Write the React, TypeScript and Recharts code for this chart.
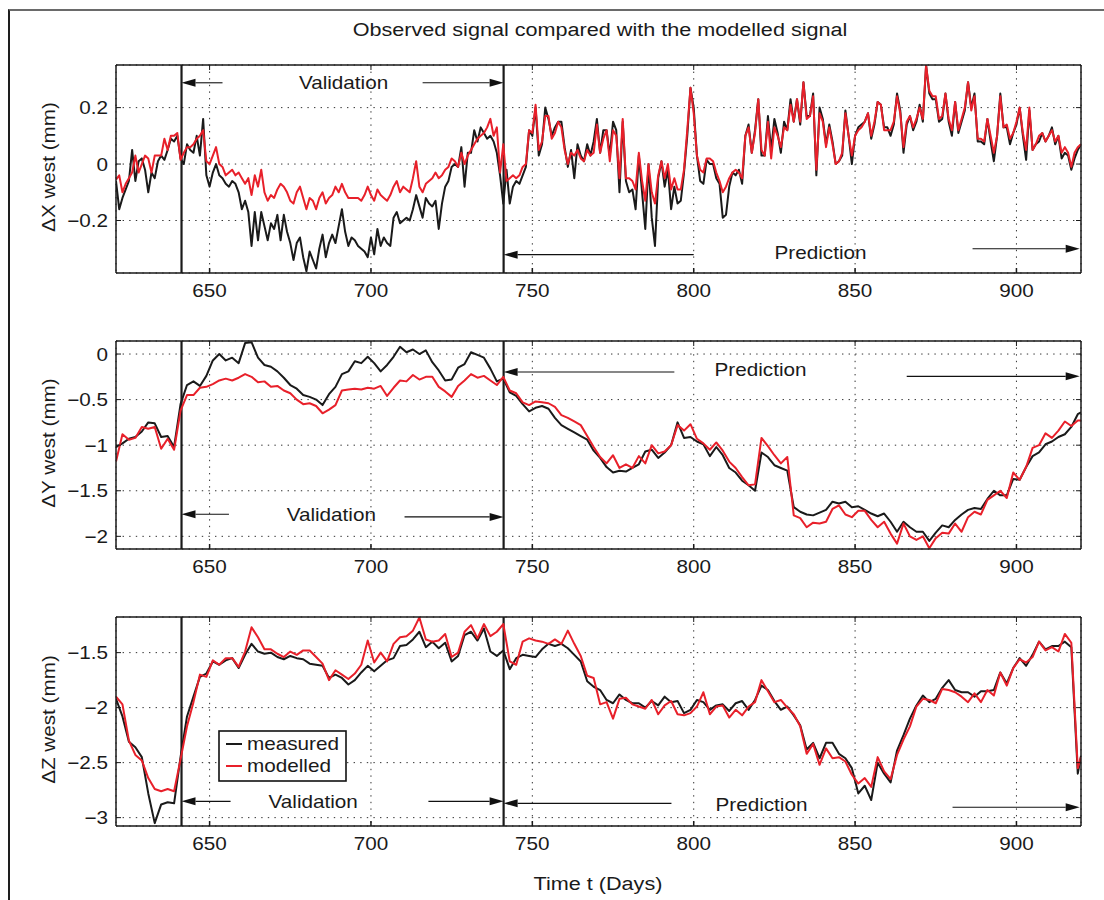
import React from 'react';
import { LineChart, Line, XAxis, YAxis, CartesianGrid, ReferenceLine, ReferenceDot, Legend } from 'recharts';

const FONT = '"Liberation Sans", Arial, Helvetica, sans-serif';
const SX = 1.15;
const SX_TITLE = 1.2;
const FS = 18;

const xDomain = [621, 920];
const xTicks = [650, 700, 750, 800, 850, 900];
const xTickLabels = ['650', '700', '750', '800', '850', '900'];
const splitDays = [641.3, 741.1];

const days1 = [621,622,623,624,625,626,627,628,629,630,631,632,633,634,635,636,637,638,639,640,
641,642,643,644,645,646,647,648,649,650,651,652,653,654,655,656,657,658,659,660,
661,662,663,664,665,666,667,668,669,670,671,672,673,674,675,676,677,678,679,680,
681,682,683,684,685,686,687,688,689,690,691,692,693,694,695,696,697,698,699,700,
701,702,703,704,705,706,707,708,709,710,711,712,713,714,715,716,717,718,719,720,
721,722,723,724,725,726,727,728,729,730,731,732,733,734,735,736,737,738,739,740,
741,742,743,744,745,746,747,748,749,750,751,752,753,754,755,756,757,758,759,760,
761,762,763,764,765,766,767,768,769,770,771,772,773,774,775,776,777,778,779,780,
781,782,783,784,785,786,787,788,789,790,791,792,793,794,795,796,797,798,799,800,
801,802,803,804,805,806,807,808,809,810,811,812,813,814,815,816,817,818,819,820,
821,822,823,824,825,826,827,828,829,830,831,832,833,834,835,836,837,838,839,840,
841,842,843,844,845,846,847,848,849,850,851,852,853,854,855,856,857,858,859,860,
861,862,863,864,865,866,867,868,869,870,871,872,873,874,875,876,877,878,879,880,
881,882,883,884,885,886,887,888,889,890,891,892,893,894,895,896,897,898,899,900,
901,902,903,904,905,906,907,908,909,910,911,912,913,914,915,916,917,918,919,920];

const measuredX = [-0.06,-0.16,-0.12,-0.09,-0.06,0.05,-0.06,0.01,0.02,-0.02,
-0.10,-0.03,-0.05,0.01,0.03,0.015,0.05,0.09,0.08,0.10,
0.02,0.00,0.07,0.05,0.04,0.10,0.03,0.16,-0.04,-0.08,
-0.03,0.00,-0.04,-0.05,-0.07,-0.08,-0.06,-0.07,-0.10,-0.16,
-0.13,-0.17,-0.29,-0.17,-0.27,-0.17,-0.22,-0.27,-0.21,-0.23,
-0.18,-0.27,-0.18,-0.24,-0.28,-0.34,-0.28,-0.26,-0.33,-0.38,
-0.31,-0.34,-0.37,-0.30,-0.25,-0.33,-0.28,-0.25,-0.28,-0.22,
-0.16,-0.24,-0.29,-0.26,-0.27,-0.29,-0.30,-0.31,-0.33,-0.26,
-0.32,-0.23,-0.29,-0.26,-0.28,-0.29,-0.19,-0.17,-0.21,-0.20,
-0.19,-0.20,-0.16,-0.11,-0.15,-0.19,-0.12,-0.14,-0.15,-0.13,
-0.23,-0.14,-0.08,-0.06,-0.01,0.00,-0.01,0.06,-0.08,0.04,
0.04,0.12,0.08,0.13,0.11,0.09,0.10,0.08,0.04,-0.04,
-0.14,-0.02,-0.14,-0.08,-0.06,-0.07,-0.04,-0.01,0.12,0.10,
0.20,0.03,0.07,0.20,0.16,0.10,0.13,0.15,0.15,0.06,
-0.01,0.05,-0.05,0.07,0.03,0.01,0.07,0.03,0.08,0.16,
0.04,0.12,0.12,0.03,0.15,0.12,-0.10,0.15,-0.06,-0.10,
-0.09,-0.16,0.03,-0.10,-0.23,0.00,-0.19,-0.29,-0.05,0.01,
-0.08,-0.02,-0.16,-0.08,-0.14,-0.13,-0.03,0.10,0.27,0.20,
0.03,-0.06,-0.07,0.015,0.00,0.00,-0.05,-0.07,-0.19,-0.18,
-0.08,-0.03,-0.04,-0.02,-0.07,0.10,0.14,0.04,0.12,0.23,
0.03,0.03,0.17,0.05,0.16,0.11,0.04,0.15,0.12,0.23,
0.15,0.23,0.14,0.29,0.17,0.17,0.25,-0.04,0.20,0.16,
0.07,0.14,0.08,0.00,0.01,0.03,0.19,0.10,0.00,0.10,
0.13,0.14,0.15,0.18,0.09,0.14,0.22,0.21,0.13,0.13,
0.10,0.14,0.25,0.19,0.04,0.14,0.17,0.12,0.15,0.21,
0.15,0.35,0.25,0.23,0.23,0.15,0.16,0.25,0.15,0.10,
0.22,0.11,0.15,0.19,0.29,0.20,0.25,0.08,0.08,0.07,
0.16,0.08,0.01,0.10,0.25,0.13,0.13,0.07,0.11,0.14,
0.20,0.10,0.015,0.19,0.05,0.07,0.08,0.11,0.08,0.10,
0.13,0.07,0.10,0.02,0.04,0.03,-0.02,0.02,0.05,0.07];

const modelledX = [-0.055,-0.04,-0.10,-0.07,-0.05,-0.03,0.03,-0.03,0.00,0.03,
0.02,-0.03,0.03,0.03,0.03,0.09,0.05,0.10,0.10,0.11,
0.015,0.04,0.06,0.06,0.07,0.09,0.10,0.12,0.01,0.00,
0.03,0.06,0.00,-0.01,-0.04,-0.03,-0.02,-0.04,-0.03,-0.05,
-0.07,-0.05,-0.11,-0.04,-0.08,-0.02,-0.10,-0.13,-0.11,-0.12,
-0.09,-0.07,-0.08,-0.10,-0.13,-0.14,-0.10,-0.08,-0.12,-0.16,
-0.12,-0.13,-0.16,-0.12,-0.10,-0.14,-0.12,-0.11,-0.08,-0.10,
-0.07,-0.10,-0.12,-0.12,-0.12,-0.12,-0.13,-0.11,-0.08,-0.11,
-0.13,-0.09,-0.11,-0.12,-0.13,-0.11,-0.08,-0.06,-0.10,-0.08,
-0.09,-0.10,-0.05,0.01,-0.08,-0.10,-0.07,-0.06,-0.05,-0.03,
-0.05,-0.04,-0.02,-0.01,0.02,0.01,-0.01,0.04,0.00,0.03,
0.05,0.07,0.09,0.10,0.11,0.13,0.16,0.10,0.13,-0.03,
0.07,-0.06,-0.05,-0.04,-0.05,-0.04,-0.01,0.00,0.12,0.11,
0.21,0.05,0.08,0.17,0.17,0.09,0.11,0.15,0.13,0.05,
0.00,0.04,0.03,0.05,0.02,0.01,0.05,0.03,0.04,0.14,
0.04,0.09,0.12,0.01,0.12,0.10,-0.05,0.16,-0.05,-0.05,
-0.06,-0.09,0.04,-0.06,-0.13,0.00,-0.10,-0.14,-0.04,0.01,
-0.05,0.00,-0.09,-0.05,-0.09,-0.09,-0.02,0.12,0.27,0.18,
0.03,-0.02,-0.03,0.02,0.02,0.01,-0.03,-0.06,-0.10,-0.08,
-0.05,-0.03,-0.02,-0.03,-0.05,0.10,0.13,0.04,0.11,0.23,
0.05,0.03,0.15,0.02,0.13,0.10,0.06,0.13,0.12,0.21,
0.15,0.23,0.15,0.29,0.16,0.17,0.24,-0.02,0.18,0.15,
0.06,0.13,0.07,0.00,0.01,0.04,0.18,0.10,0.03,0.10,
0.12,0.13,0.15,0.18,0.10,0.15,0.22,0.21,0.12,0.12,
0.12,0.15,0.24,0.18,0.06,0.15,0.17,0.13,0.16,0.20,
0.16,0.35,0.26,0.24,0.24,0.16,0.17,0.25,0.16,0.12,
0.22,0.12,0.16,0.20,0.29,0.19,0.24,0.09,0.09,0.08,
0.16,0.10,0.04,0.10,0.24,0.13,0.14,0.09,0.11,0.15,
0.20,0.11,0.05,0.20,0.05,0.07,0.10,0.11,0.08,0.10,
0.12,0.08,0.10,0.04,0.06,0.04,-0.01,0.04,0.06,0.07];

const days23 = [621,623,625,627,629,631,633,635,637,639,
641,643,645,647,649,651,653,655,657,659,
661,663,665,667,669,671,673,675,677,679,
681,683,685,687,689,691,693,695,697,699,
701,703,705,707,709,711,713,715,717,719,
721,723,725,727,729,731,733,735,737,739,
741,743,745,747,749,751,753,755,757,759,
761,763,765,767,769,771,773,775,777,779,
781,783,785,787,789,791,793,795,797,799,
801,803,805,807,809,811,813,815,817,819,
821,823,825,827,829,831,833,835,837,839,
841,843,845,847,849,851,853,855,857,859,
861,863,865,867,869,871,873,875,877,879,
881,883,885,887,889,891,893,895,897,899,
901,903,905,907,909,911,913,915,917,919,920];

const measuredY = [-1.02,-0.98,-0.93,-0.91,-0.85,-0.75,-0.76,-0.91,-0.90,-1.02,
-0.55,-0.34,-0.30,-0.35,-0.24,-0.07,0.00,-0.07,-0.04,-0.10,
0.12,0.13,-0.04,-0.12,-0.14,-0.19,-0.26,-0.34,-0.38,-0.45,
-0.47,-0.50,-0.56,-0.44,-0.36,-0.22,-0.19,-0.08,-0.10,-0.03,
-0.10,-0.19,-0.12,-0.03,0.08,0.02,0.05,0.00,0.04,-0.09,
-0.18,-0.29,-0.28,-0.15,-0.11,0.02,-0.01,-0.04,-0.16,-0.30,
-0.27,-0.42,-0.46,-0.55,-0.63,-0.59,-0.57,-0.60,-0.70,-0.78,
-0.82,-0.86,-0.90,-0.94,-1.06,-1.14,-1.24,-1.30,-1.28,-1.29,
-1.25,-1.21,-1.07,-1.05,-1.14,-1.08,-1.00,-0.75,-0.92,-0.91,
-0.96,-0.99,-1.12,-1.02,-1.11,-1.25,-1.30,-1.39,-1.44,-1.50,
-1.08,-1.13,-1.22,-1.25,-1.28,-1.68,-1.73,-1.76,-1.77,-1.74,
-1.71,-1.62,-1.64,-1.62,-1.68,-1.67,-1.71,-1.75,-1.78,-1.75,
-1.84,-1.95,-1.84,-1.90,-1.95,-1.95,-2.05,-1.96,-1.88,-1.90,
-1.82,-1.76,-1.71,-1.69,-1.70,-1.59,-1.50,-1.55,-1.55,-1.37,
-1.38,-1.24,-1.12,-1.08,-0.99,-0.96,-0.91,-0.88,-0.80,-0.66,-0.64];

const modelledY = [-1.18,-0.88,-0.94,-0.92,-0.80,-0.82,-0.80,-1.04,-0.93,-1.05,
-0.62,-0.45,-0.45,-0.37,-0.36,-0.33,-0.29,-0.27,-0.29,-0.26,
-0.22,-0.25,-0.31,-0.30,-0.36,-0.35,-0.40,-0.43,-0.50,-0.55,
-0.54,-0.57,-0.65,-0.61,-0.56,-0.40,-0.39,-0.38,-0.39,-0.37,
-0.38,-0.35,-0.46,-0.37,-0.29,-0.30,-0.23,-0.28,-0.25,-0.25,
-0.36,-0.41,-0.47,-0.35,-0.29,-0.22,-0.26,-0.24,-0.29,-0.34,
-0.25,-0.40,-0.43,-0.53,-0.56,-0.52,-0.53,-0.54,-0.58,-0.67,
-0.70,-0.74,-0.78,-0.90,-1.02,-1.13,-1.20,-1.11,-1.25,-1.21,
-1.25,-1.12,-1.20,-1.00,-1.09,-1.07,-1.00,-0.78,-0.84,-0.77,
-0.93,-0.98,-1.05,-0.97,-1.06,-1.18,-1.25,-1.35,-1.44,-1.43,
-0.92,-1.01,-1.11,-1.20,-1.13,-1.77,-1.80,-1.90,-1.85,-1.86,
-1.84,-1.70,-1.66,-1.76,-1.79,-1.72,-1.72,-1.82,-1.90,-1.84,
-1.97,-2.08,-1.86,-2.00,-2.04,-2.00,-2.13,-2.02,-1.96,-1.97,
-1.86,-1.95,-1.79,-1.73,-1.76,-1.60,-1.55,-1.50,-1.58,-1.30,
-1.38,-1.24,-1.03,-1.00,-0.87,-0.92,-0.84,-0.74,-0.79,-0.73,-0.73];

const measuredZ = [-1.92,-2.08,-2.31,-2.36,-2.45,-2.78,-3.05,-2.88,-2.86,-2.87,
-2.45,-2.08,-1.90,-1.72,-1.69,-1.58,-1.61,-1.57,-1.55,-1.64,
-1.52,-1.42,-1.49,-1.51,-1.50,-1.54,-1.56,-1.53,-1.55,-1.56,
-1.60,-1.61,-1.62,-1.73,-1.70,-1.73,-1.79,-1.75,-1.68,-1.62,
-1.67,-1.62,-1.57,-1.55,-1.44,-1.43,-1.38,-1.31,-1.45,-1.40,
-1.46,-1.41,-1.58,-1.53,-1.34,-1.31,-1.39,-1.28,-1.49,-1.53,
-1.48,-1.65,-1.55,-1.52,-1.53,-1.54,-1.47,-1.42,-1.44,-1.42,
-1.46,-1.52,-1.58,-1.76,-1.81,-1.84,-1.93,-1.96,-1.88,-1.93,
-1.96,-1.96,-2.00,-1.94,-1.98,-1.90,-1.95,-1.94,-2.05,-2.02,
-1.93,-1.95,-2.02,-1.98,-1.97,-2.03,-1.96,-1.94,-2.02,-1.93,
-1.80,-1.84,-1.94,-2.02,-1.99,-2.07,-2.16,-2.38,-2.32,-2.46,
-2.32,-2.32,-2.42,-2.46,-2.55,-2.78,-2.71,-2.84,-2.50,-2.60,
-2.68,-2.39,-2.25,-2.10,-1.98,-1.89,-1.95,-1.92,-1.82,-1.75,
-1.84,-1.86,-1.86,-1.90,-1.85,-1.85,-1.84,-1.68,-1.78,-1.64,
-1.55,-1.62,-1.52,-1.40,-1.47,-1.44,-1.44,-1.40,-1.45,-2.60,-2.44];

const modelledZ = [-1.90,-1.97,-2.30,-2.43,-2.48,-2.64,-2.74,-2.76,-2.74,-2.76,
-2.47,-2.17,-1.95,-1.70,-1.72,-1.57,-1.61,-1.55,-1.55,-1.63,
-1.49,-1.27,-1.36,-1.47,-1.47,-1.51,-1.54,-1.49,-1.52,-1.48,
-1.48,-1.54,-1.60,-1.75,-1.66,-1.70,-1.74,-1.69,-1.61,-1.39,
-1.59,-1.50,-1.58,-1.42,-1.36,-1.35,-1.30,-1.18,-1.38,-1.40,
-1.39,-1.33,-1.54,-1.50,-1.31,-1.25,-1.37,-1.24,-1.35,-1.31,
-1.24,-1.58,-1.61,-1.40,-1.37,-1.39,-1.40,-1.42,-1.38,-1.42,
-1.30,-1.42,-1.53,-1.71,-1.73,-1.97,-1.95,-2.10,-1.92,-1.91,
-1.97,-1.99,-2.01,-1.93,-2.06,-1.98,-1.94,-2.06,-2.07,-2.05,
-1.99,-1.86,-2.06,-1.99,-1.98,-2.09,-2.02,-2.07,-1.99,-1.95,
-1.75,-1.85,-1.95,-1.93,-2.00,-2.06,-2.17,-2.42,-2.33,-2.52,
-2.37,-2.46,-2.45,-2.49,-2.61,-2.69,-2.64,-2.72,-2.45,-2.58,
-2.65,-2.43,-2.29,-2.17,-1.99,-1.92,-1.93,-1.96,-1.83,-1.84,
-1.86,-1.90,-1.95,-1.87,-1.95,-1.84,-1.89,-1.68,-1.80,-1.64,
-1.56,-1.59,-1.54,-1.40,-1.48,-1.45,-1.49,-1.33,-1.41,-2.55,-2.45];

const yTicksX = [-0.2, 0, 0.2];
const yLabelsX = ['\u22120.2', '0', '0.2'];
const yTicksY = [-2, -1.5, -1, -0.5, 0];
const yLabelsY = ['\u22122', '\u22121.5', '\u22121', '\u22120.5', '0'];
const yTicksZ = [-3, -2.5, -2, -1.5];
const yLabelsZ = ['\u22123', '\u22122.5', '\u22122', '\u22121.5'];

const arrowsX = [
  { from: 654, to: 641.3, y: 0.288 }, { from: 716, to: 741.1, y: 0.288 },
  { from: 800, to: 741.1, y: -0.321 }, { from: 886.4, to: 919.6, y: -0.3 },
];
const textsX = [
  { x: 691.5, y: 0.288, text: 'Validation' }, { x: 839.3, y: -0.314, text: 'Prediction' },
];
const arrowsY = [
  { from: 794, to: 741.1, y: -0.197 }, { from: 866, to: 919.6, y: -0.245 },
  { from: 656, to: 641.3, y: -1.758 }, { from: 710.4, to: 741.1, y: -1.787 },
];
const textsY = [
  { x: 820.7, y: -0.168, text: 'Prediction' }, { x: 687.7, y: -1.758, text: 'Validation' },
];
const arrowsZ = [
  { from: 656.5, to: 641.3, y: -2.852 }, { from: 717.8, to: 741.1, y: -2.852 },
  { from: 793.1, to: 741.1, y: -2.87 }, { from: 880.2, to: 919.6, y: -2.906 },
];
const textsZ = [
  { x: 682.1, y: -2.852, text: 'Validation' }, { x: 821, y: -2.879, text: 'Prediction' },
];

const BLACK = '#1a1a1a';
const RED = '#e8202a';

const zip = (days: number[], m: number[], p: number[]) =>
  days.map((d, i) => ({ day: d, measured: m[i], modelled: p[i] }));

const XTick = (props: any) => {
  const { x, y, payload } = props;
  const idx = xTicks.indexOf(payload.value);
  return (
    <g transform={`translate(${x},${y})`}>
      <text transform={`scale(${SX},1)`} textAnchor="middle" dy="0.71em" fontSize={FS} fontFamily={FONT} fill="#1a1a1a">
        {idx >= 0 ? xTickLabels[idx] : String(payload.value)}
      </text>
    </g>
  );
};

const makeYTick = (ticks: number[], labels: string[]) => (props: any) => {
  const { x, y, payload } = props;
  let idx = -1;
  ticks.forEach((t, i) => { if (Math.abs(t - payload.value) < 1e-9) idx = i; });
  return (
    <g transform={`translate(${x},${y})`}>
      <text transform={`scale(${SX},1)`} textAnchor="end" dy="0.36em" fontSize={FS} fontFamily={FONT} fill="#1a1a1a">
        {idx >= 0 ? labels[idx] : String(payload.value)}
      </text>
    </g>
  );
};

const NoTick = () => <g />;

const Arrow = (p: any) => {
  const { x1, y1, x2, y2 } = p;
  const dir = x2 > x1 ? 1 : -1;
  const L = 14;
  const W = 4;
  const bx = x2 - dir * L;
  return (
    <g>
      <line x1={x1} y1={y1} x2={bx} y2={y2} stroke="#111" strokeWidth={1.1} />
      <polygon points={`${x2},${y2} ${bx},${y2 - W} ${bx},${y2 + W}`} fill="#111" />
    </g>
  );
};

const makeTextShape = (text: string) => (p: any) => (
  <g transform={`translate(${p.cx},${p.cy})`}>
    <text transform={`scale(${SX},1)`} textAnchor="middle" dy="0.36em" fontSize={FS} fontFamily={FONT} fill="#1a1a1a">
      {text}
    </text>
  </g>
);

const makeYLabel = (text: string) => (props: any) => {
  const vb = props.viewBox || {};
  const cx = vb.x - 7;
  const cy = vb.y + vb.height / 2 - 2;
  return (
    <g transform={`translate(${cx},${cy}) rotate(-90) scale(${SX},1)`}>
      <text textAnchor="middle" dy="0.36em" fontSize={FS} fontFamily={FONT} fill="#1a1a1a">{text}</text>
    </g>
  );
};

const LegendBox = (props: any) => {
  const payload = props.payload || [];
  return (
    <svg width={130} height={53} style={{ display: 'block' }}>
      <rect x={1} y={1} width={127} height={50} fill="#fff" stroke="#111" strokeWidth={1.6} />
      {payload.map((e: any, i: number) => (
        <g key={i}>
          <line x1={8} x2={24} y1={14 + i * 22} y2={14 + i * 22} stroke={e.color} strokeWidth={2} />
          <g transform={`translate(29,${14 + i * 22}) scale(${SX},1)`}>
            <text dy="0.36em" fontSize={FS} fontFamily={FONT} fill="#1a1a1a">{e.value}</text>
          </g>
        </g>
      ))}
    </svg>
  );
};

type PanelProps = {
  plotTop: number;
  plotH: number;
  data: any[];
  yDomain: number[];
  yTicks: number[];
  yLabels: string[];
  yTitle: string;
  arrows: { from: number; to: number; y: number }[];
  texts: { x: number; y: number; text: string }[];
  legend?: boolean;
};

const PAD_TOP = 30;
const AX_H = 40;

function Panel({ plotTop, plotH, data, yDomain, yTicks, yLabels, yTitle, arrows, texts, legend }: PanelProps) {
  const svgTop = plotTop - PAD_TOP;
  const YTick = makeYTick(yTicks, yLabels);
  return (
    <div style={{ position: 'absolute', left: 0, top: svgTop }}>
      <LineChart width={1104} height={PAD_TOP + plotH + AX_H} data={data}
        margin={{ top: PAD_TOP - 1, right: 22, bottom: 0, left: 56 }}>
        <CartesianGrid xAxisId="b" yAxisId="l" stroke="#333" strokeDasharray="1.4 5.2" strokeWidth={1} />
        <XAxis xAxisId="b" dataKey="day" type="number" domain={xDomain} ticks={xTicks} allowDataOverflow
          height={AX_H} tickSize={-5} tickMargin={16} tick={XTick} stroke={BLACK} strokeWidth={1.5}
          axisLine={{ stroke: BLACK, strokeWidth: 1.5 }} tickLine={{ stroke: BLACK }} interval={0} />
        <XAxis xAxisId="t" orientation="top" dataKey="day" type="number" domain={xDomain} ticks={xTicks} allowDataOverflow
          height={1} tickSize={-5} tick={NoTick} axisLine={{ stroke: BLACK, strokeWidth: 1.5 }} tickLine={{ stroke: BLACK }} interval={0} />
        <YAxis yAxisId="l" type="number" domain={yDomain} ticks={yTicks} allowDataOverflow width={60}
          tickSize={-5} tickMargin={13} tick={YTick} axisLine={{ stroke: BLACK, strokeWidth: 1.5 }} tickLine={{ stroke: BLACK }}
          interval={0} label={makeYLabel(yTitle)} />
        <YAxis yAxisId="r" orientation="right" type="number" domain={yDomain} ticks={yTicks} allowDataOverflow width={1}
          tickSize={-5} tick={NoTick} axisLine={{ stroke: BLACK, strokeWidth: 1.5 }} tickLine={{ stroke: BLACK }} interval={0} />
        {splitDays.map((d) => (
          <ReferenceLine key={d} xAxisId="b" yAxisId="l" x={d} stroke={BLACK} strokeWidth={2.2} />
        ))}
        <Line xAxisId="b" yAxisId="l" type="linear" dataKey="measured" name="measured" stroke={BLACK}
          strokeWidth={2} dot={false} isAnimationActive={false} strokeLinejoin="round" />
        <Line xAxisId="b" yAxisId="l" type="linear" dataKey="modelled" name="modelled" stroke={RED}
          strokeWidth={2} dot={false} isAnimationActive={false} strokeLinejoin="round" />
        {arrows.map((a, i) => (
          <ReferenceLine key={'a' + i} xAxisId="b" yAxisId="l"
            segment={[{ x: a.from, y: a.y }, { x: a.to, y: a.y }]} shape={Arrow} />
        ))}
        {texts.map((t, i) => (
          <ReferenceDot key={'t' + i} xAxisId="b" yAxisId="l" x={t.x} y={t.y} r={0} shape={makeTextShape(t.text)} />
        ))}
        {legend && (
          <Legend layout="vertical" align="center" verticalAlign="middle" content={LegendBox}
            wrapperStyle={{ position: 'absolute', left: 218, top: 730 - svgTop, width: 130, height: 53 }} />
        )}
      </LineChart>
    </div>
  );
}

const dataX = zip(days1, measuredX, modelledX);
const dataY = zip(days23, measuredY, modelledY);
const dataZ = zip(days23, measuredZ, modelledZ);

export default function App() {
  return (
    <div style={{ position: 'absolute', left: 0, top: 0, width: 1104, height: 900, background: '#fff', overflow: 'hidden', fontFamily: FONT }}>
      <div style={{ position: 'absolute', left: 8, top: 9, width: 1100, height: 900, borderTop: '2px solid #6a6a6a', borderLeft: '2px solid #1e1e1e' }} />
      <div style={{ position: 'absolute', left: 600, top: 30, transform: `translate(-50%,-50%) scaleX(${SX_TITLE})`, fontSize: FS, whiteSpace: 'nowrap', lineHeight: 1, color: '#1a1a1a' }}>
        Observed signal compared with the modelled signal
      </div>
      <Panel plotTop={65} plotH={208} data={dataX} yDomain={[-0.386, 0.351]} yTicks={yTicksX} yLabels={yLabelsX}
        yTitle={'\u0394X west (mm)'} arrows={arrowsX} texts={textsX} />
      <Panel plotTop={341} plotH={208} data={dataY} yDomain={[-2.139, 0.143]} yTicks={yTicksY} yLabels={yLabelsY}
        yTitle={'\u0394Y west (mm)'} arrows={arrowsY} texts={textsY} />
      <Panel plotTop={617} plotH={209} data={dataZ} yDomain={[-3.076, -1.176]} yTicks={yTicksZ} yLabels={yLabelsZ}
        yTitle={'\u0394Z west (mm)'} arrows={arrowsZ} texts={textsZ} legend />
      <div style={{ position: 'absolute', left: 598, top: 884, transform: `translate(-50%,-50%) scaleX(${SX_TITLE})`, fontSize: FS, whiteSpace: 'nowrap', lineHeight: 1, color: '#1a1a1a' }}>
        Time t (Days)
      </div>
    </div>
  );
}
